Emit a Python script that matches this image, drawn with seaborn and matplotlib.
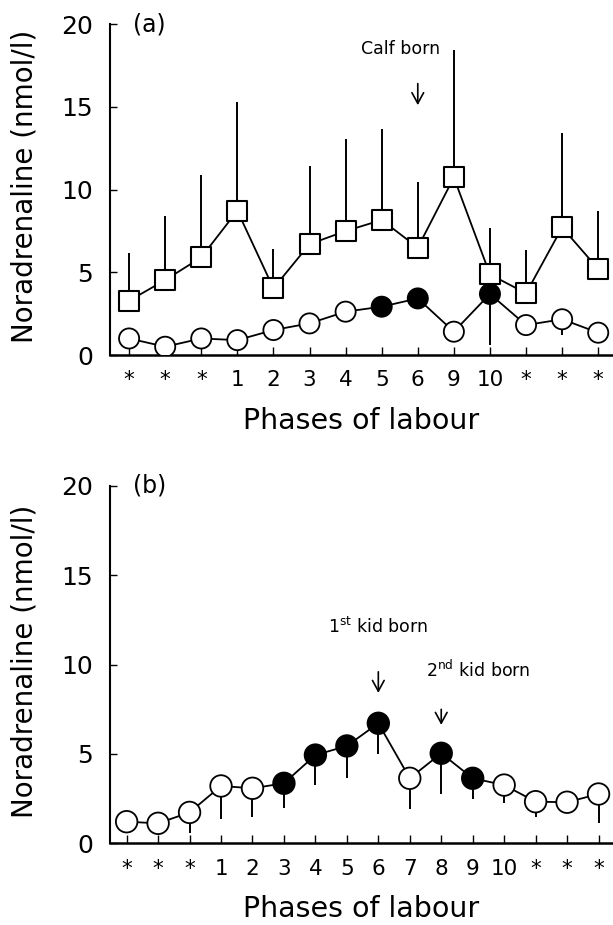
import numpy as np
import pandas as pd
import matplotlib
matplotlib.use('Agg')
import matplotlib.pyplot as plt
import seaborn as sns

# panel (a): cow
labels_a = ['*', '*', '*', '1', '2', '3', '4', '5', '6', '9', '10', '*', '*', '*']
sq_a = [3.28, 4.53, 5.9, 8.72, 4.03, 6.7, 7.49, 8.16, 6.49, 10.73, 4.87, 3.73, 7.71, 5.2]
sq_a_top = [6.14, 8.42, 10.88, 15.3, 6.4, 11.42, 13.03, 13.64, 10.43, 18.43, 7.65, 6.34, 13.43, 8.72]
ci_a = [1.0, 0.5, 1.0, 0.9, 1.51, 1.91, 2.62, 2.92, 3.42, 1.41, 3.69, 1.81, 2.16, 1.35]
ci_a_low = [0.8, 0.3, 0.8, 0.7, 1.3, 1.7, 2.4, 2.7, 3.2, 1.2, 0.6, 1.6, 1.2, 1.15]
filled_a = [0, 0, 0, 0, 0, 0, 0, 1, 1, 0, 1, 0, 0, 0]

# panel (b): goat
labels_b = ['*', '*', '*', '1', '2', '3', '4', '5', '6', '7', '8', '9', '10', '*', '*', '*']
ci_b = [1.21, 1.12, 1.73, 3.21, 3.08, 3.36, 4.94, 5.45, 6.72, 3.64, 5.04, 3.64, 3.26, 2.33, 2.3, 2.76]
ci_b_low = [1.0, 0.9, 0.56, 1.36, 1.49, 1.96, 3.26, 3.64, 4.98, 1.9, 2.76, 2.46, 2.27, 1.49, 2.0, 1.12]
filled_b = [0, 0, 0, 0, 0, 1, 1, 1, 1, 0, 1, 1, 0, 0, 0, 0]

plt.rcParams['font.family'] = ['DejaVu Sans']
plt.rcParams['mathtext.fontset'] = 'dejavusans'

fig = plt.figure(figsize=(6.13, 9.25), dpi=100)
ax_a = fig.add_axes([0.1794, 0.6162, 0.8206, 0.3578])
ax_b = fig.add_axes([0.1794, 0.0883, 0.8206, 0.3863])

arrow = dict(arrowstyle='->,head_length=0.55,head_width=0.3', color='black', lw=1.2,
             mutation_scale=14, shrinkA=0, shrinkB=0)


def draw_circles(ax, vals, low, filled, ms):
    df = pd.DataFrame({'pos': np.arange(len(vals)), 'val': vals,
                       'low': low, 'filled': [bool(f) for f in filled]})
    ax.errorbar(df['pos'], df['val'], yerr=[df['val'] - df['low'], np.zeros(len(df))],
                fmt='none', ecolor='black', elinewidth=1.4, capsize=0, zorder=1)
    sns.lineplot(data=df, x='pos', y='val', ax=ax, color='black', lw=1.3, sort=False, zorder=2)
    sns.scatterplot(data=df, x='pos', y='val', hue='filled', palette={True: 'black', False: 'white'},
                    edgecolor='black', linewidth=1.3, s=ms ** 2, marker='o', legend=False, ax=ax, zorder=3)


def style(ax, labels, xmax, tag):
    ax.set_xlim(-0.53, xmax)
    ax.set_ylim(0, 20)
    ax.set_yticks([0, 5, 10, 15, 20])
    ax.set_xticks(np.arange(len(labels)))
    ax.set_xticklabels(labels)
    for t in ax.get_xticklabels():
        if t.get_text() == '*':
            t.set_fontsize(12)
    sns.despine(ax=ax)
    ax.spines['left'].set_linewidth(1.5)
    ax.spines['bottom'].set_linewidth(1.8)
    ax.tick_params(axis='y', direction='in', length=5, width=1, labelsize=18, pad=12)
    ax.tick_params(axis='x', direction='in', length=6, width=1, labelsize=15.5, pad=11)
    ax.set_xlabel('Phases of labour', fontsize=20.5, labelpad=12)
    ax.set_ylabel('Noradrenaline (nmol/l)', fontsize=20)
    ax.yaxis.set_label_coords(-0.143, 0.51)
    ax.text(0.045, 1.0, tag, transform=ax.transAxes, fontsize=17, va='center', ha='left')


# panel (a)
pos_a = np.arange(len(sq_a))
sq_a = np.array(sq_a)
ax_a.errorbar(pos_a, sq_a, yerr=[np.zeros(len(sq_a)), np.array(sq_a_top) - sq_a],
              fmt='none', ecolor='black', elinewidth=1.4, capsize=0, zorder=1)
sns.lineplot(x=pos_a, y=sq_a, ax=ax_a, color='black', lw=1.3, sort=False, zorder=2)
sns.scatterplot(x=pos_a, y=sq_a, marker='s', s=15 ** 2, color='white', edgecolor='black',
                linewidth=1.5, ax=ax_a, zorder=3)
draw_circles(ax_a, ci_a, ci_a_low, filled_a, 14.5)
style(ax_a, labels_a, 13.41, '(a)')
ax_a.text(7.53, 18.5, 'Calf born', fontsize=12.5, ha='center', va='center')
ax_a.annotate('', xy=(8, 15.1), xytext=(8, 16.4), arrowprops=arrow)

# panel (b)
draw_circles(ax_b, ci_b, ci_b_low, filled_b, 15.5)
style(ax_b, labels_b, 15.46, '(b)')
ax_b.text(8.0, 12.1, '1$^{\\mathrm{st}}$ kid born', fontsize=12.5, ha='center', va='center')
ax_b.annotate('', xy=(8, 8.42), xytext=(8, 9.6), arrowprops=arrow)
ax_b.text(11.17, 9.7, '2$^{\\mathrm{nd}}$ kid born', fontsize=12.5, ha='center', va='center')
ax_b.annotate('', xy=(10, 6.63), xytext=(10, 7.5), arrowprops=arrow)

fig.savefig('out.png', dpi=100)
